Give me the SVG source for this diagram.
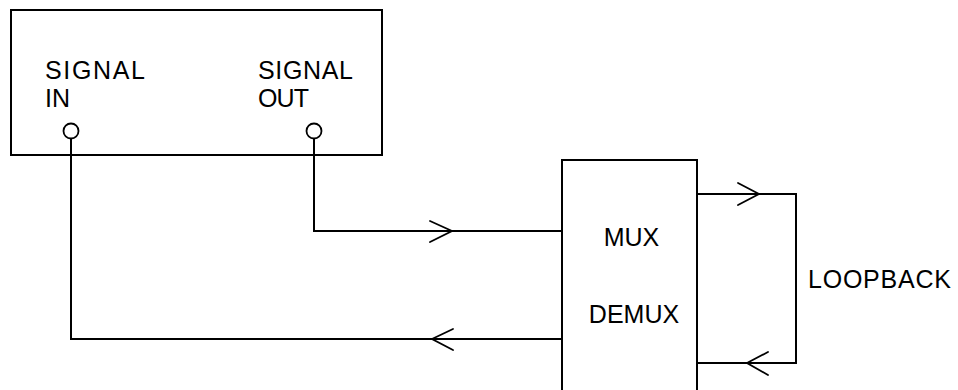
<svg xmlns="http://www.w3.org/2000/svg" width="958" height="390" viewBox="0 0 958 390">
<style>
.box{fill:none;stroke:#000;stroke-width:2}
.wire{fill:none;stroke:#000;stroke-width:2;stroke-linejoin:miter}
.head{fill:none;stroke:#000;stroke-width:1.8;stroke-linecap:round;stroke-linejoin:miter}
.port{fill:#fff;stroke:#000;stroke-width:1.8}
.lbl{font-family:"Liberation Sans",Arial,sans-serif;font-size:25px;fill:#000}
</style>
<rect width="958" height="390" fill="#fff"/>
<g id="terminal">
<rect class="box" x="11" y="10" width="371" height="145"/>
<text class="lbl" x="45" y="79" textLength="100" lengthAdjust="spacing">SIGNAL</text>
<text class="lbl" x="45" y="107">IN</text>
<text class="lbl" x="258" y="79" textLength="95" lengthAdjust="spacing">SIGNAL</text>
<text class="lbl" x="258" y="107" textLength="51" lengthAdjust="spacing">OUT</text>
<circle id="port-in" class="port" cx="71" cy="131" r="7.5"/>
<circle id="port-out" class="port" cx="314" cy="131" r="7.5"/>
</g>
<g id="muxdemux">
<path class="box" d="M562,392 V160 H697 V392"/>
<text class="lbl" x="631.5" y="246" text-anchor="middle">MUX</text>
<text class="lbl" x="634" y="323" text-anchor="middle">DEMUX</text>
</g>
<g id="loopback-label">
<text class="lbl" x="808" y="288" textLength="143" lengthAdjust="spacing">LOOPBACK</text>
</g>
<g id="connectors">
<path class="wire" d="M314,138.5 V231 H562"/>
<path class="head" d="M430,221 L452,231 L430,242"/>
<path class="wire" d="M562,339 H71 V138.5"/>
<path class="head" d="M453,329 L432,339 L453,350"/>
<path class="wire" d="M697,194 H796 V363 H697"/>
<path class="head" d="M738,183 L759,194 L738,205"/>
<path class="head" d="M768,352 L747,363 L768,375"/>
</g>
</svg>
